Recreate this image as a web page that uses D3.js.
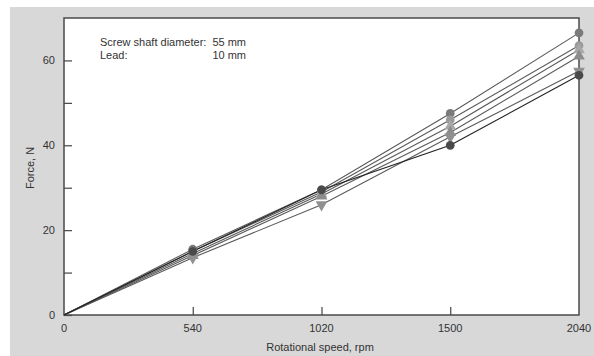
<!DOCTYPE html>
<html>
<head>
<meta charset="utf-8">
<script src="https://cdn.jsdelivr.net/npm/d3@7"></script>
<style>
  html, body { margin: 0; padding: 0; background: #fff; }
  svg { display: block; }
  text { font-family: "Liberation Sans", Arial, sans-serif; fill: #333; }
</style>
</head>
<body>
<svg id="chart" width="594" height="356"></svg>
<script>
// Rotational speeds (rpm) measured
const speeds = [0, 540, 1020, 1500, 2040];

// Force readings (N) for each run
const runA = [0, 15.0, 29.5, 40.0, 56.5];
const runB = [0, 15.5, 29.5, 47.5, 66.5];
const runC = [0, 15.0, 29.0, 46.0, 63.5];
const runD = [0, 14.5, 28.5, 44.5, 62.5];
const runE = [0, 14.0, 28.0, 43.0, 61.0];
const runF = [0, 13.5, 26.0, 42.0, 57.5];

const yTicks = [0, 20, 40, 60];
const yMinorTicks = [10, 30, 50];

const runs = [
  { values: runB, color: "#7a7a7a", shape: "circle" },
  { values: runC, color: "#9a9a9a", shape: "circle" },
  { values: runD, color: "#a8a8a8", shape: "triangle" },
  { values: runE, color: "#8c8c8c", shape: "triangle" },
  { values: runF, color: "#909090", shape: "triangleDown" },
  { values: runA, color: "#4a4a4a", shape: "circle" }
];

const svg = d3.select("#chart");
const W = 594, H = 356;
const plot = { left: 64, top: 18, right: 579, bottom: 315 };

// grey panel behind the plot
svg.append("rect").attr("x", 10).attr("y", 7).attr("width", W - 10).attr("height", H - 7)
  .attr("fill", "#d8d8d8");
svg.append("rect").attr("x", plot.left).attr("y", plot.top)
  .attr("width", plot.right - plot.left).attr("height", plot.bottom - plot.top)
  .attr("fill", "#fff");

const x = d3.scalePoint().domain(speeds).range([plot.left, plot.right]).padding(0);
const y = d3.scaleLinear().domain([0, 70]).range([plot.bottom, plot.top]);

// y axis: inward ticks
const yAxis = svg.append("g").attr("transform", `translate(${plot.left},0)`)
  .call(d3.axisRight(y).tickValues(yTicks.concat(yMinorTicks)).tickSize(8).tickFormat(""));
yAxis.select(".domain").remove();
yAxis.selectAll("line").attr("stroke", "#444").attr("stroke-width", 1.2);
svg.append("g").selectAll("text").data(yTicks).join("text")
  .attr("x", plot.left - 9).attr("y", d => y(d)).attr("dy", "0.35em")
  .attr("text-anchor", "end").attr("font-size", 11).text(d => d);

// x axis: inward ticks
const xAxis = svg.append("g").attr("transform", `translate(0,${plot.bottom})`)
  .call(d3.axisTop(x).tickValues(speeds.slice(1, -1)).tickSize(8).tickFormat(""));
xAxis.select(".domain").remove();
xAxis.selectAll("line").attr("stroke", "#444").attr("stroke-width", 1.2);
svg.append("g").selectAll("text").data(speeds).join("text")
  .attr("x", d => x(d)).attr("y", plot.bottom + 17)
  .attr("text-anchor", "middle").attr("font-size", 11).text(d => d);

// frame
svg.append("rect").attr("x", plot.left).attr("y", plot.top)
  .attr("width", plot.right - plot.left).attr("height", plot.bottom - plot.top)
  .attr("fill", "none").attr("stroke", "#4a4a4a").attr("stroke-width", 1.5);

// axis titles
svg.append("text").attr("x", 320).attr("y", 351).attr("text-anchor", "middle")
  .attr("font-size", 11).text("Rotational speed, rpm");
svg.append("text").attr("transform", "translate(34,168) rotate(-90)")
  .attr("text-anchor", "middle").attr("font-size", 11).text("Force, N");

// annotation
const note = svg.append("g").attr("font-size", 11);
note.append("text").attr("x", 100).attr("y", 46).text("Screw shaft diameter:");
note.append("text").attr("x", 246).attr("y", 46).attr("text-anchor", "end").text("55 mm");
note.append("text").attr("x", 100).attr("y", 59).text("Lead:");
note.append("text").attr("x", 246).attr("y", 59).attr("text-anchor", "end").text("10 mm");

// lines
const line = d3.line().x((d, i) => x(speeds[i])).y(d => y(d));
svg.append("g").selectAll("path").data(runs).join("path")
  .attr("d", r => line(r.values))
  .attr("fill", "none").attr("stroke", (r, i) => i === runs.length - 1 ? "#222" : "#5a5a5a")
  .attr("stroke-width", 1.1);

// markers
const symbolFor = s => s === "circle" ? d3.symbolCircle : d3.symbolTriangle;
runs.forEach(r => {
  svg.append("g").selectAll("path").data(r.values.slice(1)).join("path")
    .attr("transform", (d, i) => `translate(${x(speeds[i + 1])},${y(d)})` + (r.shape === "triangleDown" ? " rotate(180)" : ""))
    .attr("d", d3.symbol().type(symbolFor(r.shape)).size(60))
    .attr("fill", r.color);
});
</script>
</body>
</html>
